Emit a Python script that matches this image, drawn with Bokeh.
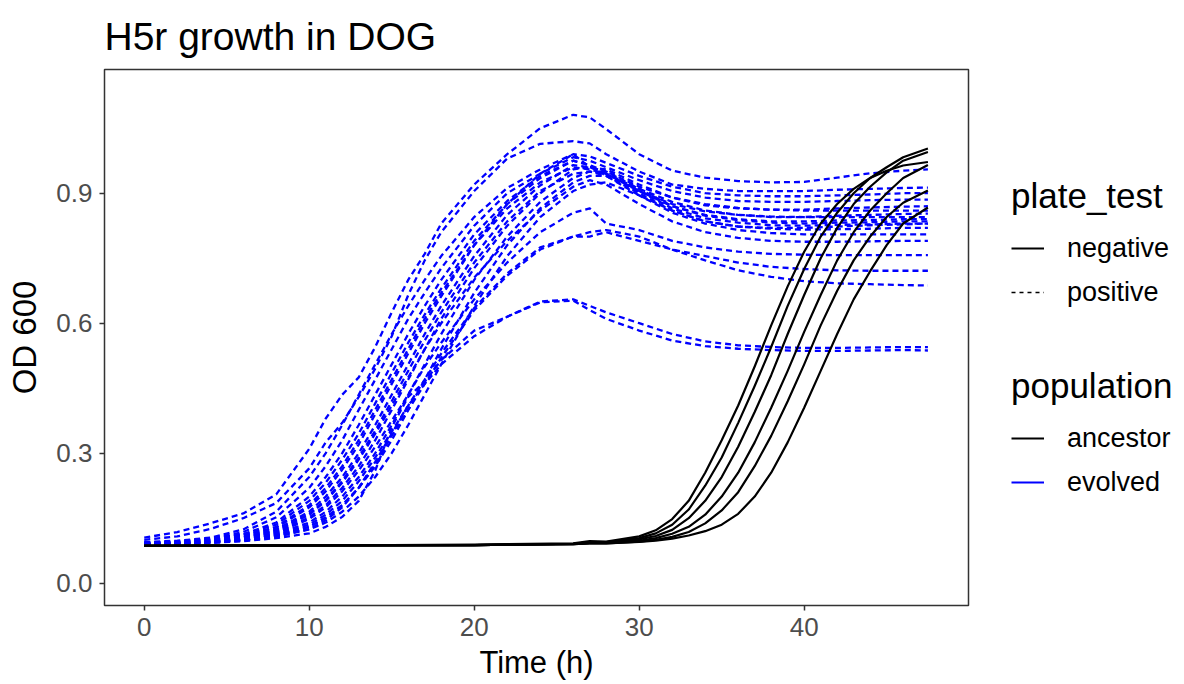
from bokeh.plotting import figure
from bokeh.layouts import row
from bokeh.models import Range1d, FixedTicker, Legend, LegendItem, PrintfTickFormatter
from bokeh.embed import file_html
from bokeh.resources import INLINE

# ---------------- data ----------------
time_evolved = [0, 2, 4, 6, 8, 10, 11, 12, 13, 14, 15, 16, 17, 18, 20, 22, 24, 26, 27, 28,
                30, 32, 34, 36, 38, 40, 42, 44, 46, 47.5]

evolved_01 = [0.105, 0.118, 0.138, 0.161, 0.205, 0.31, 0.38, 0.435, 0.475, 0.545, 0.625, 0.70, 0.76, 0.83,
              0.92, 0.99, 1.05, 1.081, 1.075, 1.048, 0.99, 0.952, 0.936, 0.928, 0.925, 0.926, 0.936, 0.946, 0.952, 0.955]
evolved_02 = [0.10, 0.108, 0.125, 0.15, 0.185, 0.265, 0.325, 0.37, 0.43, 0.495, 0.57, 0.665, 0.745, 0.81,
              0.905, 0.98, 1.014, 1.02, 1.015, 0.99, 0.95, 0.92, 0.91, 0.905, 0.905, 0.905, 0.908, 0.91, 0.912, 0.913]
evolved_03 = [0.095, 0.098, 0.105, 0.124, 0.165, 0.245, 0.30, 0.365, 0.435, 0.505, 0.575, 0.64, 0.70, 0.755,
              0.845, 0.912, 0.955, 0.99, 0.985, 0.97, 0.94, 0.915, 0.90, 0.895, 0.893, 0.893, 0.895, 0.897, 0.90, 0.90]
evolved_04 = [0.093, 0.096, 0.103, 0.118, 0.152, 0.22, 0.27, 0.33, 0.40, 0.47, 0.54, 0.61, 0.67, 0.727,
              0.825, 0.90, 0.945, 0.983, 0.975, 0.96, 0.93, 0.905, 0.89, 0.882, 0.88, 0.88, 0.882, 0.884, 0.885, 0.885]
evolved_05 = [0.092, 0.095, 0.101, 0.113, 0.14, 0.20, 0.245, 0.30, 0.365, 0.435, 0.505, 0.575, 0.64, 0.70,
              0.805, 0.882, 0.94, 0.975, 0.965, 0.95, 0.915, 0.89, 0.875, 0.866, 0.862, 0.862, 0.865, 0.867, 0.869, 0.87]
evolved_06 = [0.092, 0.094, 0.10, 0.11, 0.13, 0.18, 0.22, 0.27, 0.33, 0.40, 0.47, 0.54, 0.61, 0.67,
              0.78, 0.865, 0.925, 0.96, 0.955, 0.945, 0.91, 0.88, 0.86, 0.85, 0.845, 0.845, 0.848, 0.85, 0.852, 0.853]
evolved_07 = [0.091, 0.093, 0.098, 0.107, 0.124, 0.165, 0.20, 0.245, 0.30, 0.365, 0.435, 0.505, 0.575, 0.64,
              0.755, 0.85, 0.918, 0.965, 0.96, 0.945, 0.905, 0.87, 0.85, 0.84, 0.835, 0.835, 0.837, 0.838, 0.84, 0.84]
evolved_08 = [0.09, 0.092, 0.096, 0.104, 0.118, 0.152, 0.18, 0.22, 0.27, 0.33, 0.40, 0.47, 0.54, 0.61,
              0.727, 0.825, 0.90, 0.955, 0.96, 0.95, 0.91, 0.87, 0.848, 0.838, 0.832, 0.83, 0.832, 0.833, 0.835, 0.835]
evolved_09 = [0.09, 0.091, 0.095, 0.102, 0.114, 0.14, 0.165, 0.20, 0.245, 0.30, 0.365, 0.435, 0.505, 0.575,
              0.70, 0.80, 0.88, 0.935, 0.95, 0.945, 0.905, 0.865, 0.842, 0.832, 0.826, 0.825, 0.827, 0.828, 0.83, 0.83]
evolved_10 = [0.089, 0.09, 0.094, 0.10, 0.11, 0.13, 0.152, 0.18, 0.22, 0.27, 0.33, 0.40, 0.47, 0.54,
              0.67, 0.78, 0.865, 0.925, 0.94, 0.94, 0.90, 0.86, 0.835, 0.823, 0.818, 0.816, 0.817, 0.818, 0.82, 0.82]
evolved_11 = [0.089, 0.09, 0.093, 0.098, 0.107, 0.124, 0.14, 0.165, 0.20, 0.245, 0.30, 0.365, 0.435, 0.505,
              0.64, 0.755, 0.845, 0.905, 0.92, 0.925, 0.895, 0.855, 0.83, 0.815, 0.808, 0.805, 0.805, 0.805, 0.805, 0.805]
evolved_12 = [0.093, 0.095, 0.10, 0.11, 0.128, 0.175, 0.212, 0.262, 0.32, 0.39, 0.46, 0.53, 0.60, 0.662,
              0.78, 0.875, 0.945, 0.99, 0.96, 0.955, 0.92, 0.89, 0.872, 0.865, 0.862, 0.86, 0.86, 0.86, 0.86, 0.86]
evolved_13 = [0.09, 0.092, 0.097, 0.106, 0.12, 0.158, 0.19, 0.232, 0.285, 0.345, 0.41, 0.475, 0.54, 0.60,
              0.705, 0.79, 0.86, 0.915, 0.93, 0.92, 0.875, 0.835, 0.81, 0.797, 0.79, 0.788, 0.788, 0.789, 0.79, 0.79]
evolved_14 = [0.09, 0.091, 0.095, 0.103, 0.116, 0.148, 0.175, 0.212, 0.26, 0.315, 0.375, 0.435, 0.50, 0.555,
              0.655, 0.74, 0.81, 0.855, 0.865, 0.83, 0.815, 0.79, 0.775, 0.765, 0.76, 0.758, 0.757, 0.757, 0.757, 0.757]
evolved_15 = [0.094, 0.096, 0.102, 0.113, 0.135, 0.19, 0.232, 0.285, 0.345, 0.415, 0.485, 0.555, 0.62, 0.68,
              0.79, 0.875, 0.935, 0.975, 0.965, 0.94, 0.895, 0.86, 0.835, 0.823, 0.82, 0.82, 0.823, 0.826, 0.828, 0.83]
evolved_16 = [0.091, 0.093, 0.098, 0.106, 0.122, 0.16, 0.192, 0.236, 0.29, 0.352, 0.42, 0.49, 0.56, 0.625,
              0.74, 0.835, 0.905, 0.945, 0.95, 0.94, 0.905, 0.875, 0.858, 0.85, 0.846, 0.845, 0.845, 0.845, 0.845, 0.845]
evolved_17 = [0.09, 0.091, 0.094, 0.10, 0.11, 0.13, 0.15, 0.18, 0.22, 0.275, 0.34, 0.40, 0.46, 0.52,
              0.63, 0.71, 0.77, 0.80, 0.81, 0.815, 0.80, 0.77, 0.745, 0.722, 0.707, 0.697, 0.692, 0.69, 0.688, 0.687]
evolved_18 = [0.09, 0.091, 0.094, 0.10, 0.112, 0.135, 0.158, 0.19, 0.235, 0.29, 0.35, 0.41, 0.47, 0.53,
              0.635, 0.715, 0.775, 0.80, 0.80, 0.81, 0.79, 0.77, 0.755, 0.74, 0.73, 0.725, 0.722, 0.721, 0.721, 0.721]
evolved_19 = [0.09, 0.091, 0.093, 0.097, 0.104, 0.115, 0.13, 0.153, 0.19, 0.26, 0.36, 0.43, 0.465, 0.515,
              0.583, 0.615, 0.648, 0.652, 0.63, 0.61, 0.583, 0.56, 0.547, 0.541, 0.538, 0.536, 0.536, 0.537, 0.538, 0.537]
evolved_20 = [0.09, 0.092, 0.095, 0.10, 0.108, 0.125, 0.145, 0.175, 0.22, 0.28, 0.345, 0.41, 0.46, 0.505,
              0.57, 0.615, 0.65, 0.655, 0.64, 0.625, 0.60, 0.575, 0.558, 0.549, 0.545, 0.543, 0.543, 0.544, 0.545, 0.545]

time_ancestor = [0, 10, 20, 26, 27, 28, 30, 31, 32, 33, 34, 35, 36, 37, 38, 39, 40, 41, 42, 43, 44, 45, 46, 47.5]

ancestor_1 = [0.086, 0.087, 0.089, 0.092, 0.097, 0.096, 0.108, 0.122, 0.148, 0.19, 0.255, 0.33, 0.41, 0.50,
              0.595, 0.685, 0.765, 0.83, 0.875, 0.91, 0.935, 0.952, 0.964, 0.972]
ancestor_2 = [0.086, 0.087, 0.088, 0.091, 0.095, 0.095, 0.104, 0.115, 0.135, 0.17, 0.225, 0.29, 0.37, 0.455,
              0.545, 0.64, 0.725, 0.80, 0.855, 0.90, 0.935, 0.96, 0.983, 1.003]
ancestor_3 = [0.086, 0.087, 0.088, 0.091, 0.094, 0.094, 0.101, 0.109, 0.123, 0.15, 0.19, 0.245, 0.315, 0.395,
              0.48, 0.575, 0.665, 0.75, 0.82, 0.875, 0.915, 0.948, 0.975, 0.995]
ancestor_4 = [0.086, 0.087, 0.088, 0.09, 0.093, 0.093, 0.098, 0.104, 0.114, 0.13, 0.158, 0.20, 0.255, 0.325,
              0.405, 0.49, 0.58, 0.665, 0.745, 0.81, 0.86, 0.90, 0.935, 0.965]
ancestor_5 = [0.086, 0.087, 0.088, 0.09, 0.092, 0.092, 0.096, 0.10, 0.107, 0.118, 0.138, 0.168, 0.21, 0.27,
              0.34, 0.42, 0.505, 0.595, 0.675, 0.745, 0.80, 0.845, 0.878, 0.906]
ancestor_6 = [0.086, 0.087, 0.088, 0.09, 0.092, 0.092, 0.095, 0.098, 0.103, 0.11, 0.12, 0.135, 0.16, 0.20,
              0.255, 0.325, 0.405, 0.49, 0.575, 0.655, 0.72, 0.78, 0.83, 0.867]

evolved_curves = [evolved_01, evolved_02, evolved_03, evolved_04, evolved_05, evolved_06, evolved_07,
                  evolved_08, evolved_09, evolved_10, evolved_11, evolved_12, evolved_13, evolved_14,
                  evolved_15, evolved_16, evolved_17, evolved_18, evolved_19, evolved_20]
ancestor_curves = [ancestor_1, ancestor_2, ancestor_3, ancestor_4, ancestor_5, ancestor_6]

x_ticks = [0, 10, 20, 30, 40]
y_ticks = [0.0, 0.3, 0.6, 0.9]

title_text = "H5r growth in DOG"
x_label = "Time (h)"
y_label = "OD 600"
plate_levels = ["negative", "positive"]
population_levels = ["ancestor", "evolved"]

# ---------------- main figure ----------------
FONT = "Liberation Sans"
BLUE = "#0000FF"
NAN = float("nan")

fig = figure(width=970, height=684, output_backend="svg", toolbar_location=None,
             x_range=Range1d(-2.41, 49.96), y_range=Range1d(-0.0515, 1.1855),
             min_border_left=104, min_border_right=2, min_border_top=69, min_border_bottom=79,
             background_fill_color="white", border_fill_color="white")

fig.title.text = title_text
fig.title.text_font = FONT
fig.title.text_font_size = "39px"
fig.title.text_font_style = "normal"
fig.title.text_color = "black"
fig.title.align = "left"
fig.title.vertical_align = "bottom"
fig.title.offset = 0
fig.title.standoff = 24

fig.xgrid.grid_line_color = None
fig.ygrid.grid_line_color = None
fig.outline_line_color = "#333333"
fig.outline_line_width = 1.5
fig.outline_line_alpha = 1.0

for ax in (fig.xaxis[0], fig.yaxis[0]):
    ax.axis_line_color = None
    ax.major_tick_line_color = "#333333"
    ax.major_tick_line_width = 1.5
    ax.major_tick_in = 0
    ax.major_tick_out = 5
    ax.minor_tick_line_color = None
    ax.major_label_text_font = FONT
    ax.major_label_text_font_size = "26px"
    ax.major_label_text_color = "#4D4D4D"
    ax.axis_label_text_font = FONT
    ax.axis_label_text_font_size = "31px"
    ax.axis_label_text_font_style = "normal"
    ax.axis_label_text_color = "black"

fig.yaxis.axis_label_text_font_size = "33px"
fig.xaxis.ticker = FixedTicker(ticks=x_ticks)
fig.yaxis.ticker = FixedTicker(ticks=y_ticks)
fig.yaxis.formatter = PrintfTickFormatter(format="%.1f")
fig.xaxis.axis_label = x_label
fig.yaxis.axis_label = y_label
fig.xaxis.major_label_standoff = 7
fig.xaxis.axis_label_standoff = 6
fig.yaxis.major_label_standoff = 7
fig.yaxis.axis_label_standoff = 10

# curves
fig.multi_line(xs=[time_evolved] * len(evolved_curves), ys=evolved_curves,
               line_color=BLUE, line_width=2.3, line_dash="6 4", line_join="round")
fig.multi_line(xs=[time_ancestor] * len(ancestor_curves), ys=ancestor_curves,
               line_color="black", line_width=2.2, line_join="round")

# ---------------- legend panel ----------------
leg_fig = figure(width=214, height=684, output_backend="svg", toolbar_location=None,
                 x_range=Range1d(0, 1), y_range=Range1d(0, 1),
                 x_axis_type=None, y_axis_type=None,
                 min_border=0, background_fill_color="white", border_fill_color="white")
leg_fig.outline_line_color = None
leg_fig.xgrid.grid_line_color = None
leg_fig.ygrid.grid_line_color = None

# legend key renderers (a single NaN point: nothing drawn, only the legend keys)
r_neg = leg_fig.line(x=[NAN], y=[NAN], line_color="black", line_width=2)
r_pos = leg_fig.line(x=[NAN], y=[NAN], line_color="black", line_width=1.5, line_dash="4 4")
r_anc = leg_fig.line(x=[NAN], y=[NAN], line_color="black", line_width=2)
r_evo = leg_fig.line(x=[NAN], y=[NAN], line_color=BLUE, line_width=2)


def make_legend(title, labels, renderers, loc):
    return Legend(items=[LegendItem(label=l, renderers=[r]) for l, r in zip(labels, renderers)],
                  title=title, location=loc, orientation="vertical",
                  title_text_font=FONT, title_text_font_size="35px", title_text_color="black",
                  title_text_font_style="normal", title_standoff=12,
                  label_text_font=FONT, label_text_font_size="27px", label_text_color="black",
                  glyph_width=33, glyph_height=40, label_height=40, label_standoff=23,
                  spacing=4, padding=0, margin=0,
                  border_line_alpha=0, background_fill_alpha=0)


leg_fig.add_layout(make_legend("plate_test", plate_levels, [r_neg, r_pos], (41, 293)), "center")
leg_fig.add_layout(make_legend("population", population_levels, [r_anc, r_evo], (41, 103)), "center")

p = row(fig, leg_fig)

open("out.html", "w").write(file_html(p, INLINE))
